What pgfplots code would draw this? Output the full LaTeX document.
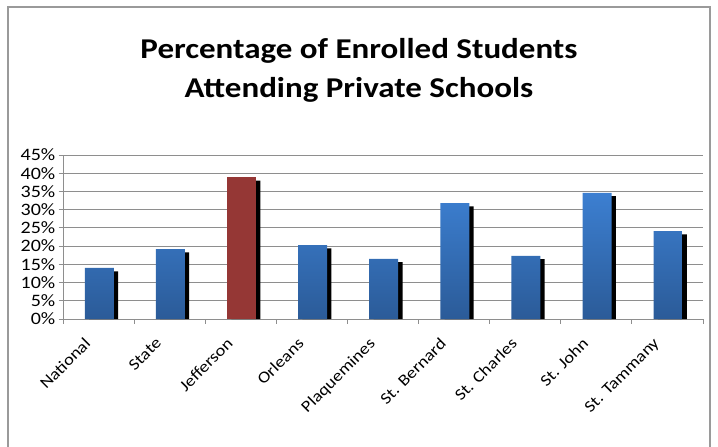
\documentclass[border=0pt]{standalone}
\usepackage{fontspec}
\setmainfont{Carlito}[FakeStretch=1.15]
\usepackage{pgfplots}
\pgfplotsset{compat=1.18}
\definecolor{bluetop}{HTML}{3C7FD1}
\definecolor{bluebot}{HTML}{2B5B98}
\definecolor{redbar}{HTML}{953735}
\definecolor{gridc}{HTML}{8E8E8E}
\definecolor{framec}{HTML}{9A9A9A}
\begin{document}
\begin{tikzpicture}
\useasboundingbox (0bp,0bp) rectangle (718bp,-447bp);
\draw[framec, line width=1.2bp] (8bp,-470bp) -- (8bp,-7bp) -- (710bp,-7bp) -- (710bp,-470bp);
\node[font=\bfseries\fontsize{28.8}{34}\selectfont, anchor=base] at (359bp,-58bp) {Percentage of Enrolled Students};
\node[font=\bfseries\fontsize{28.8}{34}\selectfont, anchor=base] at (359bp,-97bp) {Attending Private Schools};
\begin{axis}[
  at={(63bp,-319bp)}, anchor=south west,
  scale only axis, width=640bp, height=164bp,
  xmin=-0.5, xmax=8.5, ymin=0, ymax=45,
  axis x line*=bottom, axis y line*=left,
  axis line style={gridc, line width=1bp},
  every axis x line/.append style={-}, every axis y line/.append style={-},
  xtick={-0.5,0.5,...,8.5},
  x tick label as interval,
  xticklabels={National,State,Jefferson,Orleans,Plaquemines,St. Bernard,St. Charles,St. John,St. Tammany},
  ytick={0,5,...,45},
  yticklabel={\pgfmathprintnumber{\tick}\%},
  /pgf/number format/assume math mode=true,
  tick align=outside,
  major tick length=4.5bp,
  tick style={gridc, line width=1bp},
  ymajorgrids,
  grid style={gridc, line width=0.9bp},
  yticklabel style={font=\fontsize{17.5}{20}\selectfont, inner sep=3bp},
  x tick label style={font=\fontsize{16.2}{19}\selectfont, xshift=-15bp, yshift=-13bp, rotate=45, anchor=north east, inner sep=0bp},
]
\addplot[ybar, bar width=29bp, bar shift=5bp, fill=black, draw=none] coordinates {
(0,13.1) (1,18.3) (2,38.0) (3,19.4) (4,15.6) (5,30.9) (6,16.4) (7,33.7) (8,23.2)};
\addplot[ybar, bar width=29bp, bar shift=0.7bp, draw=none, top color=bluetop, bottom color=bluebot] coordinates {
(0,14.0) (1,19.2) (3,20.3) (4,16.5) (5,31.8) (6,17.3) (7,34.6) (8,24.1)};
\addplot[ybar, bar width=29bp, bar shift=0.7bp, draw=none, fill=redbar] coordinates {(2,38.9)};
\end{axis}
\end{tikzpicture}
\end{document}
